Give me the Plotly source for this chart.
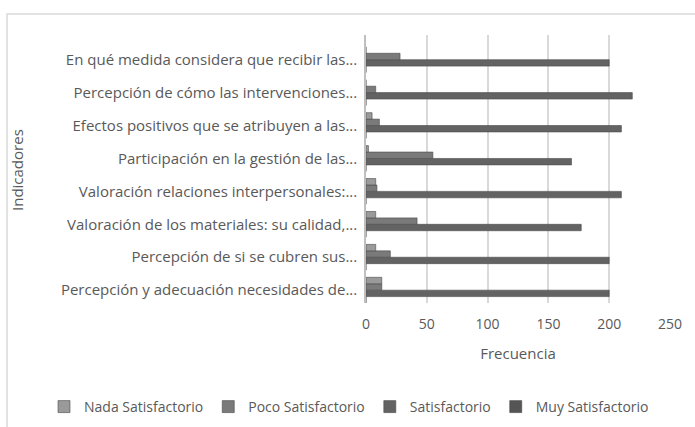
import plotly.graph_objects as go

categories = [
    "En qué medida considera que recibir las...",
    "Percepción de cómo las intervenciones...",
    "Efectos positivos que se atribuyen a las...",
    "Participación en la gestión de las...",
    "Valoración relaciones interpersonales:...",
    "Valoración de los materiales: su calidad,...",
    "Percepción de si se cubren sus...",
    "Percepción y adecuación necesidades de...",
]
nada = [0, 0, 5, 2, 8, 8, 8, 13]
poco = [28, 8, 11, 55, 9, 42, 20, 13]
satisfactorio = [200, 219, 210, 169, 210, 177, 200, 200]
muy = [0, 0, 0, 0, 0, 0, 0, 0]
x_ticks = [0, 50, 100, 150, 200, 250]

series_names = ["Nada Satisfactorio", "Poco Satisfactorio", "Satisfactorio", "Muy Satisfactorio"]
series_vals = [nada, poco, satisfactorio, muy]
colors = ["#9a9a9a", "#7a7a7a", "#636363", "#555555"]

cats_bottom_up = categories[::-1]

fig = go.Figure()
for name, vals, col in list(zip(series_names, series_vals, colors))[::-1]:
    fig.add_trace(go.Bar(
        y=cats_bottom_up, x=vals[::-1], name=name, orientation="h",
        marker=dict(color=col, line=dict(color="#4a4a4a", width=0.6)),
    ))

L, R, T, B = 366, 25, 35, 124
W = 695 - L - R
H = 427 - T - B

fig.update_layout(
    width=695, height=427,
    margin=dict(l=L, r=R, t=T, b=B, autoexpand=False),
    paper_bgcolor="white", plot_bgcolor="white",
    barmode="group", bargap=0.22, bargroupgap=0,
    font=dict(family="Open Sans", color="#595959", size=15),
    showlegend=True,
    legend=dict(orientation="h", traceorder="reversed",
                xref="paper", yref="paper",
                x=(44 - L) / W, xanchor="left",
                y=(T + H - 407) / H, yanchor="middle",
                font=dict(size=14, color="#595959"),
                itemwidth=30),
    xaxis=dict(range=[0, 250], tickvals=x_ticks,
               showgrid=True, gridcolor="#d9d9d9", gridwidth=1.5,
               zeroline=False, showline=False, ticks="",
               ticklabelstandoff=11, tickfont=dict(size=14),
               title=dict(text="Frecuencia", standoff=16, font=dict(size=15, color="#595959"))),
    yaxis=dict(showline=True, linecolor="#bfbfbf", linewidth=1.5, ticks="",
               ticklabelstandoff=4, showgrid=False, range=[-0.39, 7.75]),
    annotations=[dict(text="Indicadores", textangle=-90, xref="paper", yref="paper",
                      x=(17 - L) / W, y=(T + H - 170) / H, showarrow=False,
                      xanchor="center", yanchor="middle",
                      font=dict(size=15, color="#595959"))],
    shapes=[dict(type="rect", xref="paper", yref="paper",
                 x0=(7 - L) / W, x1=(720 - L) / W,
                 y0=(T + H - 460) / H, y1=(T + H - 14) / H,
                 line=dict(color="#d9d9d9", width=1.5), fillcolor="rgba(0,0,0,0)", layer="below")],
)

fig.write_html("out.html", config={"displayModeBar": False},
               post_script="document.body.style.margin='0';")
